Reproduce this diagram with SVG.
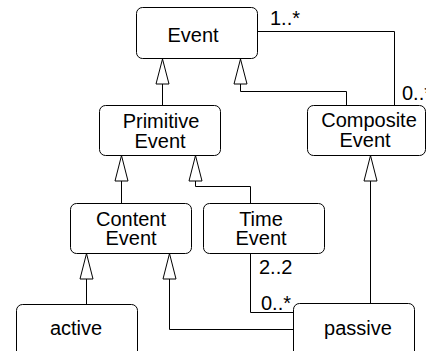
<svg xmlns="http://www.w3.org/2000/svg" width="426" height="351" viewBox="0 0 426 351">
<defs>
<style>
.box{fill:#fff;stroke:#000;stroke-width:1}
.t{font-family:"Liberation Sans",Arial,sans-serif;font-size:20px;fill:#000;text-anchor:middle}
.l{font-family:"Liberation Sans",Arial,sans-serif;font-size:20px;fill:#000}
.c{fill:none;stroke:#000;stroke-width:1}
.h{fill:#fff;stroke:#000;stroke-width:1}
</style>
</defs>
<rect width="426" height="351" fill="#fff"/>
<g id="connectors">
<path class="c" d="M257.5 31.5H394.5V105"/>
<path class="c" d="M240.5 84V91.5H346.5V105"/>
<path class="c" d="M162.5 84V105"/>
<path class="c" d="M121.5 181V203"/>
<path class="c" d="M195.5 181V186.5H250.5V203"/>
<path class="c" d="M370.5 181V303"/>
<path class="c" d="M86.5 279V304"/>
<path class="c" d="M169.5 279V329.5H293"/>
<path class="c" d="M250.5 253V312.5H293"/>
<path class="h" d="M162.5 59L156 84H169Z"/>
<path class="h" d="M240.5 59L234 84H247Z"/>
<path class="h" d="M121.5 155.5L115 181H128Z"/>
<path class="h" d="M195.5 155.5L189 181H202Z"/>
<path class="h" d="M370.5 155.5L364 181H377Z"/>
<path class="h" d="M86.5 253.5L80 279H93Z"/>
<path class="h" d="M169.5 253.5L163 279H176Z"/>
<text class="l" x="270" y="25">1..*</text>
<text class="l" x="402" y="100">0..*</text>
<text class="l" x="259" y="274">2..2</text>
<text class="l" x="261" y="310">0..*</text>
</g>
<g id="event">
<rect class="box" x="136.5" y="7.5" width="121" height="51" rx="6"/>
<text class="t" x="193" y="42">Event</text>
</g>
<g id="primitive">
<rect class="box" x="99.5" y="105.5" width="121" height="50" rx="6"/>
<text class="t" x="161" y="128">Primitive</text>
<text class="t" x="160" y="148">Event</text>
</g>
<g id="composite">
<rect class="box" x="307.5" y="105.5" width="118" height="50" rx="6"/>
<text class="t" x="369" y="127">Composite</text>
<text class="t" x="365" y="147">Event</text>
</g>
<g id="content">
<rect class="box" x="70.5" y="203.5" width="121" height="50" rx="6"/>
<text class="t" x="131" y="226">Content</text>
<text class="t" x="131" y="245">Event</text>
</g>
<g id="time">
<rect class="box" x="203.5" y="203.5" width="121" height="50" rx="6"/>
<text class="t" x="261" y="226">Time</text>
<text class="t" x="261" y="245">Event</text>
</g>
<g id="active">
<rect class="box" x="16.5" y="304.5" width="121" height="60" rx="6"/>
<text class="t" x="76" y="335">active</text>
</g>
<g id="passive">
<rect class="box" x="293.5" y="303.5" width="121" height="60" rx="6"/>
<text class="t" x="358" y="335">passive</text>
</g>
</svg>
